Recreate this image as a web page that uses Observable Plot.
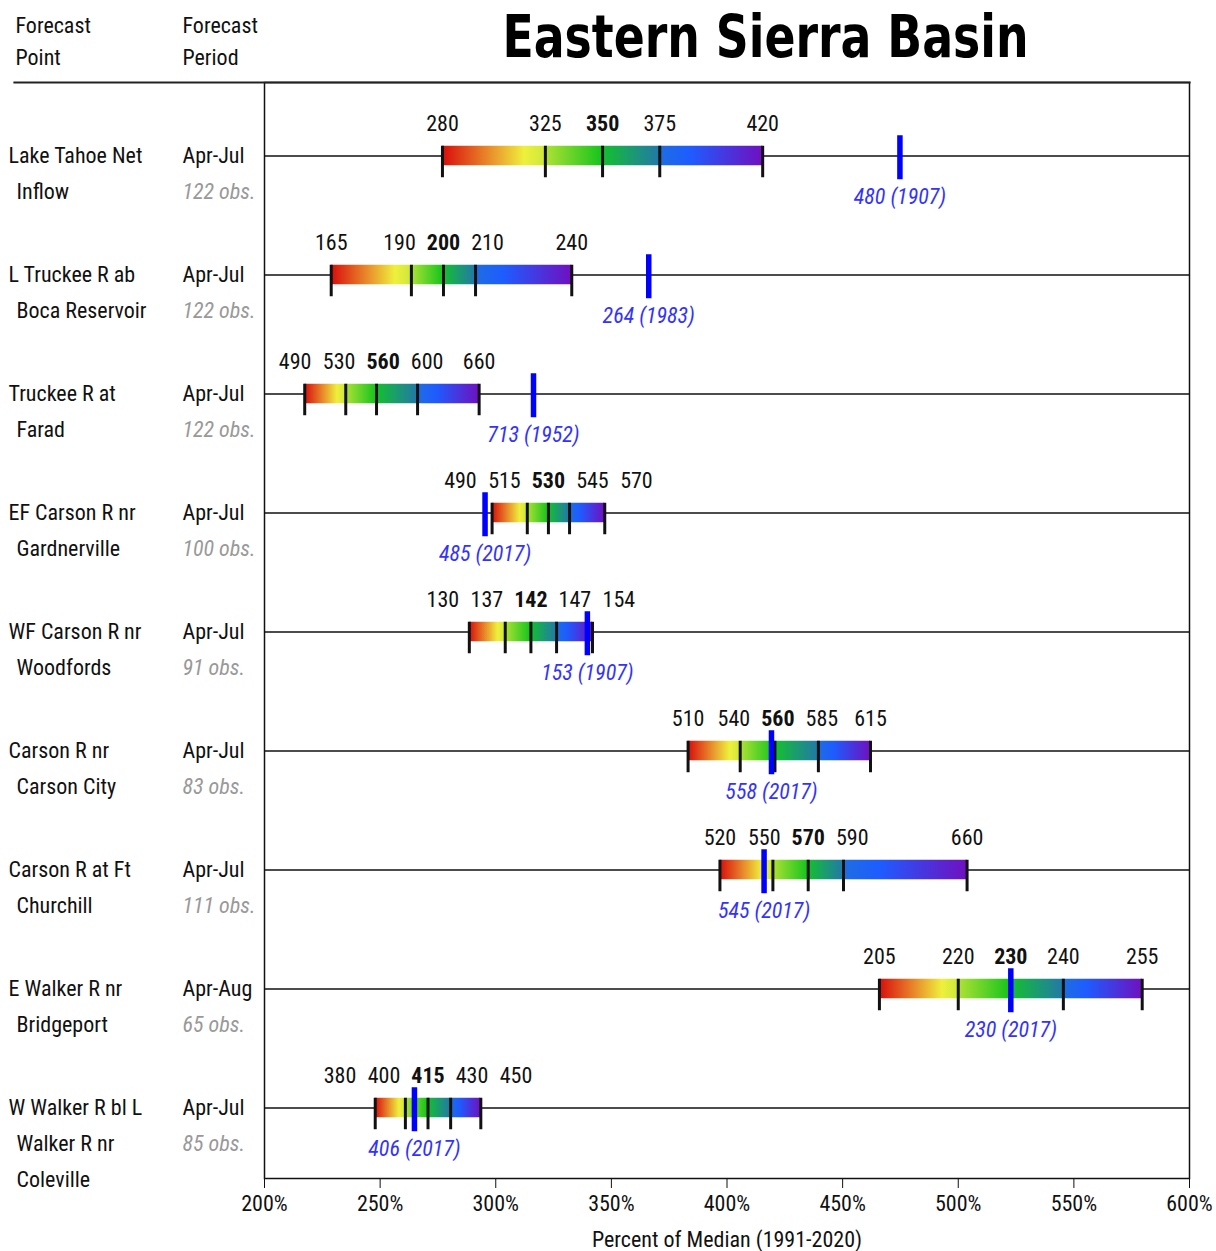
<!DOCTYPE html>
<html>
<head>
<meta charset="utf-8">
<script src="https://cdn.jsdelivr.net/npm/d3@7"></script>
<script src="https://cdn.jsdelivr.net/npm/@observablehq/plot@0.6"></script>
<style>
  html, body { margin: 0; padding: 0; background: #fff; }
  #chart svg { display: block; }
</style>
</head>
<body>
<div id="chart"></div>
<script>
// ---------------- data ----------------
const pointLines = [
  ["Lake Tahoe Net", "Inflow"],
  ["L Truckee R ab", "Boca Reservoir"],
  ["Truckee R at", "Farad"],
  ["EF Carson R nr", "Gardnerville"],
  ["WF Carson R nr", "Woodfords"],
  ["Carson R nr", "Carson City"],
  ["Carson R at Ft", "Churchill"],
  ["E Walker R nr", "Bridgeport"],
  ["W Walker R bl L", "Walker R nr", "Coleville"]
];
const periods = ["Apr-Jul", "Apr-Jul", "Apr-Jul", "Apr-Jul", "Apr-Jul", "Apr-Jul", "Apr-Jul", "Apr-Aug", "Apr-Jul"];
const obsCounts = [122, 122, 122, 100, 91, 83, 111, 65, 85];
// forecast exceedance values (90%, 70%, 50%, 30%, 10%), KAF
const exceedance = [
  [280, 325, 350, 375, 420],
  [165, 190, 200, 210, 240],
  [490, 530, 560, 600, 660],
  [490, 515, 530, 545, 570],
  [130, 137, 142, 147, 154],
  [510, 540, 560, 585, 615],
  [520, 550, 570, 590, 660],
  [205, 220, 230, 240, 255],
  [380, 400, 415, 430, 450]
];
// 1991-2020 medians (KAF)
const medians = [101.1, 72.1, 225.4, 164.2, 45.05, 133.1, 131.0, 44.0, 153.3];
const recordValues = [480, 264, 713, 485, 153, 558, 545, 230, 406];
const recordYears = [1907, 1983, 1952, 2017, 1907, 2017, 2017, 2017, 2017];
const xTicks = [200, 250, 300, 350, 400, 450, 500, 550, 600];
const titleText = "Eastern Sierra Basin";
const axisLabel = "Percent of Median (1991-2020)";

// ---------------- layout constants ----------------
const W = 1216, H = 1251;
const mL = 264, mR = 27, mT = 82, mB = 73;
const nRows = pointLines.length;
const padOuter = 0.0858;
const step = (H - mT - mB) / (nRows + 2 * padOuter);
const half = step / 2;
const pxPerPct = (W - mL - mR) / (600 - 200);
const labelGap = 44 / pxPerPct; // min spacing of value labels, in % units

const rows = d3.range(nRows);
const pct = (v, i) => v / medians[i] * 100;

// bar segments between successive exceedance values
const segs = [];
const ticks = [];
const valueLabels = [];
rows.forEach(i => {
  const p = exceedance[i].map(v => pct(v, i));
  for (let k = 0; k < 4; k++) segs.push({row: i, k, x1: p[k], x2: p[k + 1]});
  p.forEach((x, k) => ticks.push({row: i, k, x}));
  // de-overlap labels: merge overlapping clusters, centred on mean
  let clusters = [];
  p.forEach((x, k) => {
    clusters.push({xs: [x], ks: [k], c: x});
    while (clusters.length > 1) {
      const b = clusters[clusters.length - 1], a = clusters[clusters.length - 2];
      const aR = a.c + (a.xs.length - 1) / 2 * labelGap;
      const bL = b.c - (b.xs.length - 1) / 2 * labelGap;
      if (bL - aR < labelGap - 1e-6) {
        const xs = a.xs.concat(b.xs), ks = a.ks.concat(b.ks);
        clusters.splice(-2, 2, {xs, ks, c: d3.mean(xs)});
      } else break;
    }
  });
  clusters.forEach(c => c.ks.forEach((k, j) => {
    valueLabels.push({row: i, k, x: c.c + (j - (c.ks.length - 1) / 2) * labelGap, text: String(exceedance[i][k])});
  }));
});
const records = rows.map(i => ({row: i, x: pct(recordValues[i], i), text: `${recordValues[i]} (${recordYears[i]})`}));
const labelLines = [];
rows.forEach(i => pointLines[i].forEach((t, j) => labelLines.push({row: i, line: j, text: t})));
const infoRows = rows.map(i => ({row: i, period: periods[i], obs: `${obsCounts[i]} obs.`}));

const FONT = "'Liberation Sans Narrow', 'Arial Narrow', 'Roboto Condensed', sans-serif";
const segColors = ["url(#seg0)", "url(#seg1)", "url(#seg2)", "url(#seg3)"];

const chart = Plot.plot({
  width: W,
  height: H,
  marginLeft: mL,
  marginRight: mR,
  marginTop: mT,
  marginBottom: mB,
  style: {fontFamily: FONT, fontSize: "22px", color: "#111", background: "#fff"},
  x: {domain: [200, 600], ticks: xTicks, tickFormat: d => d + "%", tickSize: 10, tickPadding: 7,
      label: axisLabel, labelAnchor: "center", labelOffset: 68, labelArrow: "none"},
  y: {type: "band", domain: rows, paddingInner: 0, paddingOuter: padOuter, align: 0.55, axis: null},
  marks: [
    Plot.frame({stroke: "#111", strokeWidth: 1.5}),
    Plot.frame({anchor: "top", stroke: "#222", strokeWidth: 2.2, insetLeft: -250}),
    Plot.ruleY(rows, {y: d => d, stroke: "#111", strokeWidth: 1.5}),
    ...[0, 1, 2, 3].map(k => Plot.barX(segs.filter(s => s.k === k), {
      x1: "x1", x2: "x2", y: "row", fill: segColors[k],
      insetTop: half - 10, insetBottom: half - 10
    })),
    Plot.tickX(ticks, {x: "x", y: "row", stroke: "#111", strokeWidth: 3,
      insetTop: half - 10, insetBottom: half - 22}),
    Plot.tickX(records, {x: "x", y: "row", stroke: "#0000ff", strokeWidth: 5.5,
      insetTop: half - 20.5, insetBottom: half - 24}),
    Plot.text(valueLabels.filter(d => d.k !== 2), {x: "x", y: "row", text: "text", dy: -32,
      fontSize: 22, fill: "#111"}),
    Plot.text(valueLabels.filter(d => d.k === 2), {x: "x", y: "row", text: "text", dy: -32,
      fontSize: 22, fill: "#111", fontWeight: "bold"}),
    Plot.text(records, {x: "x", y: "row", text: "text", dy: 41, fontSize: 22,
      fill: "#3333ff", fontStyle: "italic"}),
    // left-hand table
    Plot.text(labelLines.filter(d => d.line === 0), {y: "row", text: "text", frameAnchor: "left",
      textAnchor: "start", dx: 8 - mL, fontSize: 22, fill: "#111"}),
    Plot.text(labelLines.filter(d => d.line === 1), {y: "row", text: "text", frameAnchor: "left",
      textAnchor: "start", dx: 16 - mL, dy: 36, fontSize: 22, fill: "#111"}),
    Plot.text(labelLines.filter(d => d.line === 2), {y: "row", text: "text", frameAnchor: "left",
      textAnchor: "start", dx: 16 - mL, dy: 72, fontSize: 22, fill: "#111"}),
    Plot.text(infoRows, {y: "row", text: "period", frameAnchor: "left",
      textAnchor: "start", dx: 182 - mL, fontSize: 22, fill: "#111"}),
    Plot.text(infoRows, {y: "row", text: "obs", frameAnchor: "left",
      textAnchor: "start", dx: 182 - mL, dy: 36, fontSize: 22, fill: "#999", fontStyle: "italic"}),
    // headers
    Plot.text(["Forecast\nPoint"], {frameAnchor: "top-left", textAnchor: "start", dx: 15 - mL, dy: -44,
      lineAnchor: "middle", lineHeight: 1.45, fontSize: 22, fill: "#111"}),
    Plot.text(["Forecast\nPeriod"], {frameAnchor: "top-left", textAnchor: "start", dx: 182 - mL, dy: -44,
      lineAnchor: "middle", lineHeight: 1.45, fontSize: 22, fill: "#111"}),
    Plot.text([titleText], {frameAnchor: "top", dx: 765 - (mL + (W - mR)) / 2, dy: 38 - mT,
      lineAnchor: "middle", fontSize: 58, fontWeight: "bold", fill: "#000",
      fontFamily: "'DejaVu Sans Condensed', 'DejaVu Sans', sans-serif", className: "main-title"})
  ]
});

// rainbow gradients, one per segment between exceedance values
const defs = d3.select(chart).insert("defs", ":first-child");
const gradStops = [
  [[0, "#d80c0c"], [0.45, "#e88a2a"], [0.8, "#eef03c"], [1, "#cde83a"]],
  [[0, "#b0e234"], [1, "#14c41c"]],
  [[0, "#14c02c"], [0.5, "#1a9c70"], [1, "#2278a8"]],
  [[0, "#1e6ee0"], [0.3, "#1e5cff"], [1, "#7010c0"]]
];
gradStops.forEach((stops, k) => {
  const g = defs.append("linearGradient").attr("id", `seg${k}`)
    .attr("x1", 0).attr("x2", 1).attr("y1", 0).attr("y2", 0);
  stops.forEach(([o, c]) => g.append("stop").attr("offset", o).attr("stop-color", c));
});
// squeeze title to the reference's width
d3.select(chart).selectAll(".main-title text").attr("textLength", 526).attr("lengthAdjust", "spacingAndGlyphs");

document.getElementById("chart").appendChild(chart);
</script>
</body>
</html>
